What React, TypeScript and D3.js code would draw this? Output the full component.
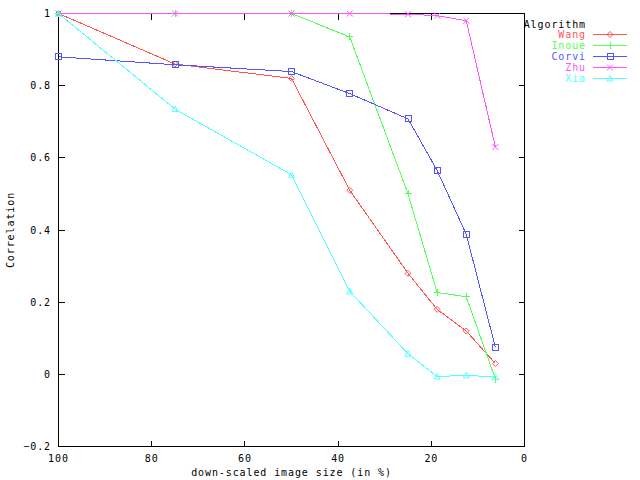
import React from "react";
import * as d3 from "d3";

const sizes = [100, 75, 50, 37.5, 25, 18.75, 12.5, 6.25];
const seriesNames = ["Wang", "Inoue", "Corvi", "Zhu", "Xia"];
const wang = [1, 0.86, 0.82, 0.51, 0.28, 0.18, 0.12, 0.03];
const inoue = [1, 1, 1, 0.935, 0.5, 0.227, 0.215, -0.013];
const corvi = [0.88, 0.858, 0.839, 0.778, 0.708, 0.565, 0.388, 0.075];
const zhu = [1, 1, 1, 1, 0.998, 0.994, 0.98, 0.63];
const xia = [1, 0.735, 0.553, 0.23, 0.057, -0.006, -0.003, -0.007];
const xTicks = [100, 80, 60, 40, 20, 0];
const yTicks = [-0.2, 0, 0.2, 0.4, 0.6, 0.8, 1];
const colors = ["#ff5555", "#55ff55", "#5555ff", "#ff55ff", "#55ffff"];
const markers = ["diamond", "plus", "square", "cross", "triangle"];

const FONT = "'DejaVu Sans Mono', monospace";

function Marker({ type, x, y, color }: { type: string; x: number; y: number; color: string }) {
  const s = 3;
  if (type === "diamond")
    return <path d={`M${x},${y - s}L${x + s},${y}L${x},${y + s}L${x - s},${y}Z`} fill="none" stroke={color} />;
  if (type === "plus")
    return <path d={`M${x - s - 0.5},${y}H${x + s + 0.5}M${x},${y - s - 0.5}V${y + s + 0.5}`} stroke={color} shapeRendering="crispEdges" />;
  if (type === "square")
    return <rect x={x - s} y={y - s} width={2 * s} height={2 * s} fill="none" stroke={color} shapeRendering="crispEdges" />;
  if (type === "cross")
    return <path d={`M${x - s},${y - s}L${x + s},${y + s}M${x - s},${y + s}L${x + s},${y - s}`} stroke={color} />;
  return <path d={`M${x},${y - s}L${x + s},${y + s - 0.5}L${x - s},${y + s - 0.5}Z`} fill="none" stroke={color} />;
}

export default function App() {
  const W = 640, H = 480;
  const x = d3.scaleLinear().domain([100, 0]).range([58.5, 524.5]);
  const y = d3.scaleLinear().domain([-0.2, 1]).range([446.5, 13.5]);
  const all = [wang, inoue, corvi, zhu, xia];
  const line = d3.line<number>().x((_, i) => x(sizes[i])).y((d) => y(d));
  const tick = 6;
  const textStyle = { fontFamily: FONT, fontSize: 10, letterSpacing: 0.9 } as const;
  return (
    <svg width={W} height={H} style={{ position: "absolute", left: 0, top: 0, background: "#fff" }}>
      <rect x={0} y={0} width={W} height={H} fill="#fff" />
      {/* ticks */}
      <g stroke="#000" shapeRendering="crispEdges">
        {yTicks.map((t) => (
          <g key={"y" + t}>
            <line x1={x(100)} x2={x(100) + tick} y1={y(t)} y2={y(t)} />
            <line x1={x(0)} x2={x(0) - tick} y1={y(t)} y2={y(t)} />
          </g>
        ))}
        {xTicks.map((t) => (
          <g key={"x" + t}>
            <line x1={x(t)} x2={x(t)} y1={y(-0.2)} y2={y(-0.2) - tick} />
            <line x1={x(t)} x2={x(t)} y1={y(1)} y2={y(1) + tick} />
          </g>
        ))}
        <rect x={x(100)} y={y(1)} width={x(0) - x(100)} height={y(-0.2) - y(1)} fill="none" />
      </g>
      <g style={textStyle} fill="#000">
        {yTicks.map((t) => (
          <text key={"yl" + t} x={51} y={y(t) + 3.5} textAnchor="end">
            {t === 1 ? "1" : t === 0 ? "0" : d3.format(".1f")(t)}
          </text>
        ))}
        {xTicks.map((t) => (
          <text key={"xl" + t} x={x(t)} y={461.5} textAnchor="middle">
            {String(t)}
          </text>
        ))}
        <text x={(x(100) + x(0)) / 2} y={476} textAnchor="middle">
          down-scaled image size (in %)
        </text>
        <text transform={`translate(14,${(y(1) + y(-0.2)) / 2}) rotate(-90)`} textAnchor="middle">
          Correlation
        </text>
        <text x={586} y={27.5} textAnchor="end">Algorithm</text>
      </g>
      {/* series */}
      {all.map((vals, k) => (
        <g key={seriesNames[k]}>
          <path d={line(vals) || ""} fill="none" stroke={colors[k]} strokeWidth={1} shapeRendering="crispEdges" />
          {vals.map((v, i) => (
            <Marker key={i} type={markers[k]} x={x(sizes[i])} y={y(v)} color={colors[k]} />
          ))}
        </g>
      ))}
      {/* legend */}
      {seriesNames.map((n, k) => {
        const ly = 34.5 + k * 11;
        return (
          <g key={"lg" + n}>
            <text x={586} y={ly + 3.5} textAnchor="end" fill={colors[k]} style={textStyle}>
              {n}
            </text>
            <line x1={593} x2={627} y1={ly} y2={ly} stroke={colors[k]} shapeRendering="crispEdges" />
            <Marker type={markers[k]} x={610} y={ly} color={colors[k]} />
          </g>
        );
      })}
    </svg>
  );
}
